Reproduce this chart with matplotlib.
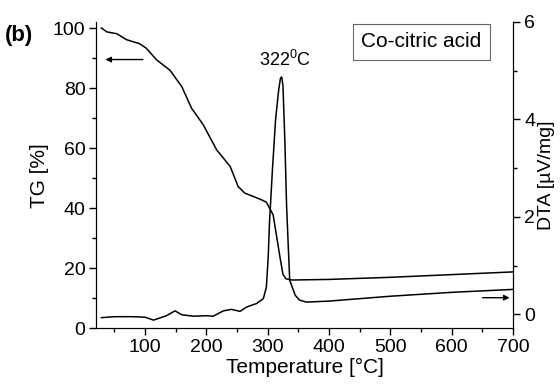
import matplotlib
matplotlib.use("Agg")
import matplotlib.pyplot as plt
from matplotlib.ticker import MultipleLocator

plt.rcParams['font.family'] = ['Liberation Sans', 'DejaVu Sans']

tg_T = [29, 38, 54, 70, 91, 102, 119, 141, 160, 176, 195, 217, 239, 252, 263, 277, 290, 298, 309, 320, 325, 330, 340, 400, 500, 600, 700]
tg_v = [100, 98.7, 98.1, 96.1, 94.8, 93.3, 89.4, 85.9, 80.5, 73.3, 67.8, 59.4, 53.9, 47.2, 45.0, 43.9, 42.8, 42.0, 37.8, 23.9, 18.0, 16.5, 16.1, 16.3, 17.0, 17.9, 18.8]

dta_T = [29, 50, 80, 100, 114, 135, 149, 160, 179, 200, 211, 228, 241, 255, 266, 282, 293, 298, 301, 303, 308, 313, 318, 321, 323, 325, 328, 331, 336, 345, 352, 363, 400, 500, 600, 700]
dta_v = [-0.07, -0.05, -0.05, -0.06, -0.12, -0.03, 0.07, -0.01, -0.04, -0.03, -0.04, 0.07, 0.10, 0.06, 0.15, 0.22, 0.32, 0.56, 1.18, 1.87, 3.0, 4.0, 4.6, 4.85, 4.87, 4.7, 3.6, 2.2, 0.70, 0.39, 0.29, 0.25, 0.27, 0.37, 0.45, 0.51]

fig = plt.figure(figsize=(5.6, 3.9), dpi=100)
ax = fig.add_axes([0.1723, 0.158, 0.916 - 0.1723, 0.9436 - 0.158])
ax2 = ax.twinx()

ax.plot(tg_T, tg_v, color='black', lw=1.1)
ax2.plot(dta_T, dta_v, color='black', lw=1.1)

ax.set_xlim(21, 700)
ax.set_ylim(0, 102)
ax2.set_ylim(-0.29, 6.0)

ax.spines['top'].set_visible(False)
ax2.spines['top'].set_visible(False)

ax.xaxis.set_major_locator(MultipleLocator(100))
ax.xaxis.set_minor_locator(MultipleLocator(50))
ax.yaxis.set_major_locator(MultipleLocator(20))
ax.yaxis.set_minor_locator(MultipleLocator(10))
ax2.yaxis.set_major_locator(MultipleLocator(2))
ax2.yaxis.set_minor_locator(MultipleLocator(1))

for a in (ax, ax2):
    a.tick_params(which='major', length=5, width=1, labelsize=14, direction='out', pad=3)
    a.tick_params(which='minor', length=3, width=1, direction='out')

ax.set_xlabel('Temperature [°C]', fontsize=15, labelpad=1)
ax.set_ylabel('TG [%]', fontsize=15, labelpad=3)
ax2.set_ylabel('DTA [µV/mg]', fontsize=14, labelpad=2)

ax.annotate('', xy=(31, 89.5), xytext=(101, 89.5),
            arrowprops=dict(arrowstyle='-|>', color='black', lw=1, mutation_scale=8))
ax2.annotate('', xy=(699, 0.34), xytext=(646, 0.34),
             arrowprops=dict(arrowstyle='-|>', color='black', lw=1, mutation_scale=8))

ax2.text(328, 5.1, '322$^{\\mathregular{0}}$C', ha='center', va='baseline', fontsize=13)

ax.text(0.780, 0.935, 'Co-citric acid', transform=ax.transAxes, ha='center', va='center', fontsize=15,
        bbox=dict(boxstyle='square,pad=0.4', fc='white', ec='#666666', lw=0.8))

fig.text(0.008, 0.895, '(b)', fontsize=16, fontweight='bold')

fig.savefig('out.png', dpi=100)
